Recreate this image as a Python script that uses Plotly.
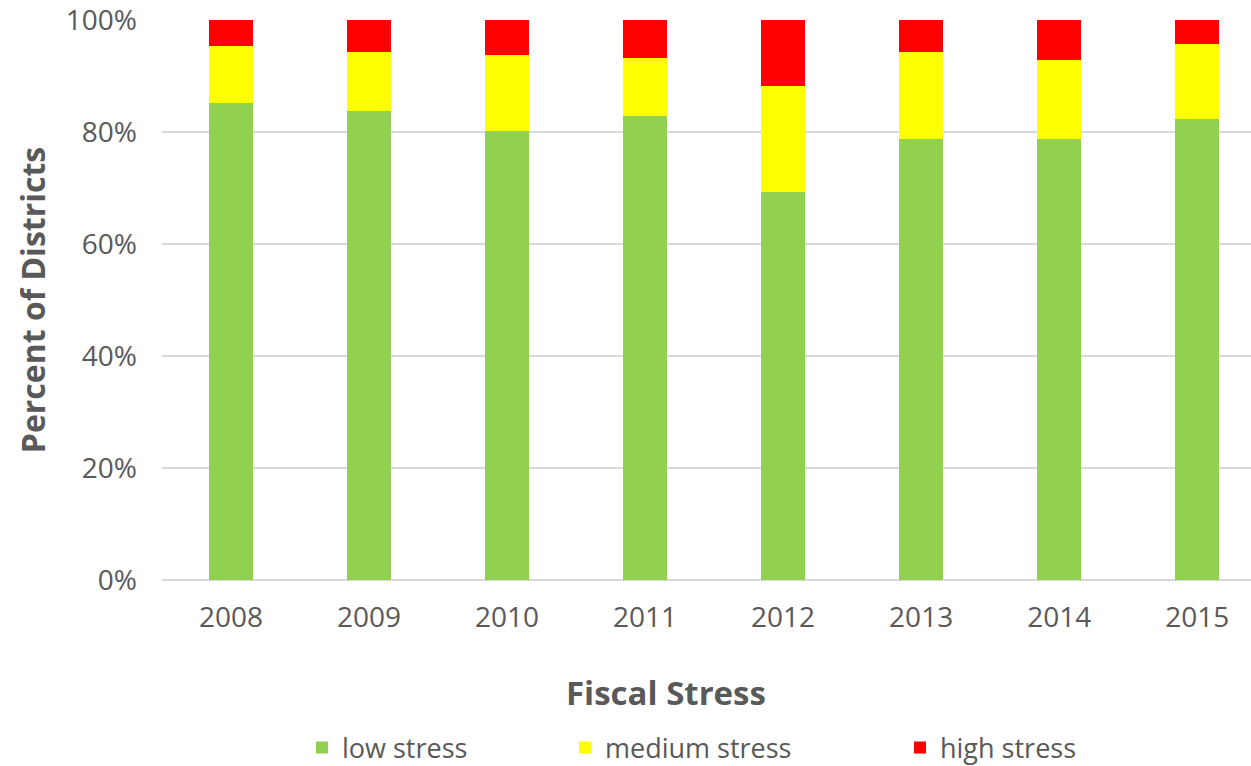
import plotly.graph_objects as go

years = ["2008", "2009", "2010", "2011", "2012", "2013", "2014", "2015"]
low_stress = [85.1, 83.7, 80.2, 82.9, 69.3, 78.7, 78.7, 82.4]
medium_stress = [10.3, 10.5, 13.6, 10.4, 19.0, 15.5, 14.1, 13.3]
high_stress = [4.6, 5.8, 6.2, 6.7, 11.7, 5.8, 7.2, 4.3]

series_names = ["low stress", "medium stress", "high stress"]
series_colors = ["#92D050", "#FFFF00", "#FF0000"]
series_values = [low_stress, medium_stress, high_stress]

y_tick_values = [0, 0.2, 0.4, 0.6, 0.8, 1.0]
y_tick_labels = ["0%", "20%", "40%", "60%", "80%", "100%"]

FONT = "Open Sans"
GRAY = "#595959"

legend_ids = ["legend", "legend2", "legend3"]
legend_left_px = [302, 565, 900]

fig = go.Figure()
for name, color, vals, lg in zip(series_names, series_colors, series_values, legend_ids):
    fig.add_trace(go.Bar(
        x=years, y=[v / 100 for v in vals], name=name,
        marker=dict(color=color, line=dict(width=0)),
        width=0.316, legend=lg,
    ))

legend_cfg = {}
for lg, px in zip(legend_ids, legend_left_px):
    legend_cfg[lg] = dict(
        orientation="h", xref="container", yref="container",
        x=px / 1251, xanchor="left", y=1 - 748 / 766, yanchor="middle",
        font=dict(size=27, color=GRAY), bgcolor="rgba(0,0,0,0)",
    )

fig.update_layout(
    barmode="stack",
    width=1251, height=766,
    margin=dict(l=162, r=0, t=20, b=186),
    plot_bgcolor="white", paper_bgcolor="white",
    font=dict(family=FONT, color=GRAY, size=28),
    xaxis=dict(
        type="category", range=[-0.5, 7.39],
        showgrid=False, showline=False, ticks="",
        tickfont=dict(size=28, color=GRAY), ticklabelstandoff=18,
    ),
    yaxis=dict(
        range=[0, 1], tickmode="array", tickvals=y_tick_values, ticktext=y_tick_labels,
        ticklabeloverflow="allow",
        showgrid=True, gridcolor="#D9D9D9", gridwidth=1.5,
        zeroline=True, zerolinecolor="#D9D9D9", zerolinewidth=1.5,
        showline=False, ticks="",
        tickfont=dict(size=28, color=GRAY), ticklabelstandoff=24,
        title=dict(text="<b>Percent of Districts</b>", font=dict(size=32, color=GRAY), standoff=10),
    ),
    annotations=[dict(
        text="<b>Fiscal Stress</b>", xref="paper", yref="paper",
        x=(666 - 162) / 1089, y=(580 - 692) / 560, xanchor="center", yanchor="middle",
        showarrow=False, font=dict(size=33, color=GRAY),
    )],
    showlegend=True,
    **legend_cfg,
)

fig.write_html("out.html")
